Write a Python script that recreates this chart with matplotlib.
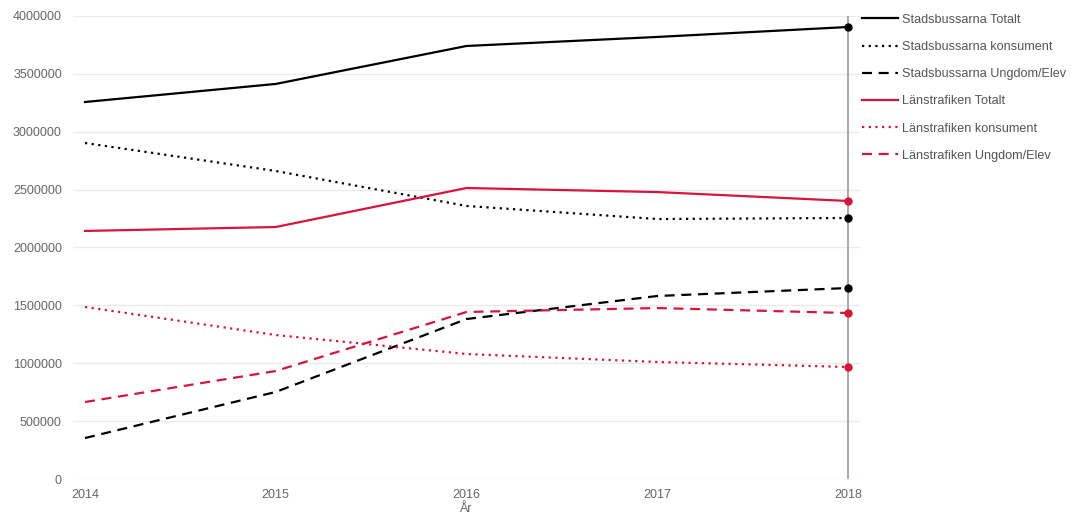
import matplotlib.pyplot as plt
from matplotlib.ticker import MultipleLocator

plt.rcParams['font.family'] = ['Liberation Sans', 'DejaVu Sans']

# Data
years = [2014, 2015, 2016, 2017, 2018]
stad_totalt = [3257000, 3413000, 3741000, 3819000, 3905000]
stad_konsument = [2903000, 2661000, 2359000, 2246000, 2255000]
stad_ungdom = [354000, 752000, 1382000, 1581000, 1650000]
lans_totalt = [2143000, 2177000, 2514000, 2479000, 2402000]
lans_konsument = [1486000, 1244000, 1080000, 1011000, 968000]
lans_ungdom = [665000, 933000, 1443000, 1477000, 1434000]

black = '#000000'
red = '#d7143a'

series = [
    ('Stadsbussarna Totalt', stad_totalt, black, '-'),
    ('Stadsbussarna konsument', stad_konsument, black, (0, (1, 2))),
    ('Stadsbussarna Ungdom/Elev', stad_ungdom, black, (0, (4.5, 3))),
    ('Länstrafiken Totalt', lans_totalt, red, '-'),
    ('Länstrafiken konsument', lans_konsument, red, (0, (1, 2))),
    ('Länstrafiken Ungdom/Elev', lans_ungdom, red, (0, (4.5, 3))),
]

# Figure
fig = plt.figure(figsize=(10.72, 5.16), dpi=100)
ax = fig.add_axes([73 / 1072, 1 - 479 / 516, (860 - 73) / 1072, (479 - 16) / 516])

for label, vals, col, ls in series:
    ax.plot(years, vals, color=col, linestyle=ls, linewidth=1.6, label=label)
    ax.plot(years[-1], vals[-1], 'o', color=col, markersize=5, zorder=5)

# vertical hover line
ax.axvline(years[-1], color='#999999', linewidth=1.2, zorder=1)

pad = 12 / 190.75
ax.set_xlim(years[0] - pad, years[-1] + pad)
ax.set_ylim(0, 4000000)
ax.set_xticks(years)
ax.yaxis.set_major_locator(MultipleLocator(500000))
ax.yaxis.set_major_formatter('{x:.0f}')
ax.grid(axis='y', color='#ebebeb', linewidth=1)
ax.set_axisbelow(True)
for s in ax.spines.values():
    s.set_visible(False)
ax.tick_params(length=0, labelsize=9, colors='#666666')
ax.tick_params(axis='y', pad=8)
ax.tick_params(axis='x', pad=7)
ax.set_xlabel('År', fontsize=9, color='#666666', labelpad=2)

leg = ax.legend(loc='upper left', bbox_to_anchor=(1.0025, 1.0045), frameon=False,
                fontsize=9.1, handlelength=2.85, handletextpad=0.3,
                labelspacing=1.2, borderaxespad=0, borderpad=0)
for t in leg.get_texts():
    t.set_color('#555555')

fig.savefig('out.png', dpi=100)
